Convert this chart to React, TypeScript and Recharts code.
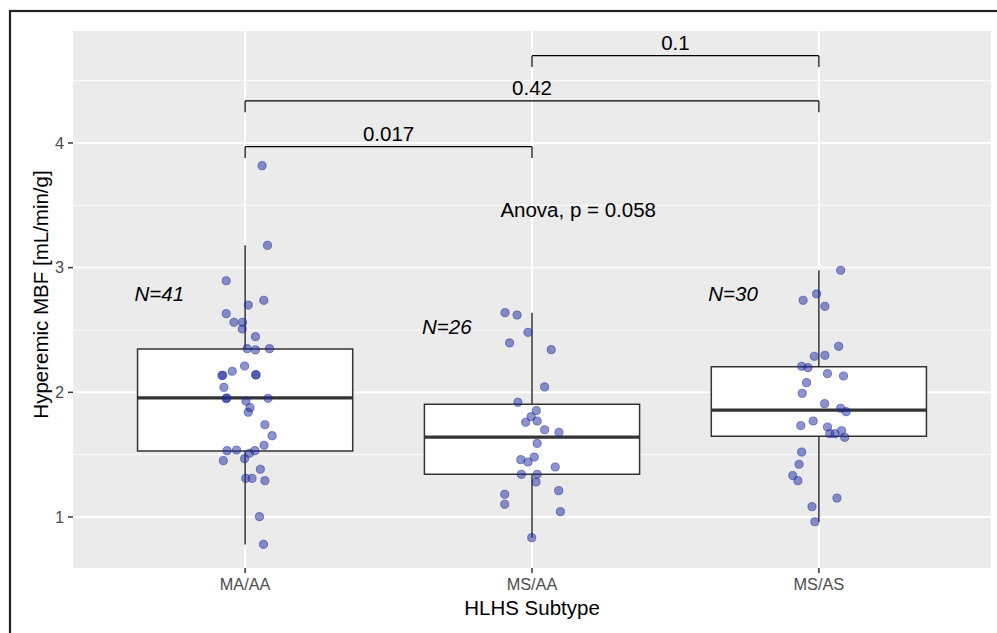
import {
  CartesianGrid,
  ComposedChart,
  ReferenceArea,
  ReferenceDot,
  ReferenceLine,
  Scatter,
  XAxis,
  YAxis,
} from "recharts";

const categories = ["MA/AA", "MS/AA", "MS/AS"];

// box statistics per subtype
const boxMin = [0.78, 0.834, 0.962];
const boxQ1 = [1.529, 1.343, 1.647];
const boxMedian = [1.955, 1.64, 1.858];
const boxQ3 = [2.348, 1.905, 2.206];
const boxMax = [3.18, 2.639, 2.979];

// individual patients (value + horizontal jitter as drawn)
const maaaValues = [
  3.818, 3.179, 2.895, 2.738, 2.7, 2.631, 2.562, 2.562, 2.508, 2.446, 2.35, 2.34, 2.35, 2.211,
  2.169, 2.134, 2.138, 2.139, 2.142, 2.04, 1.949, 1.955, 1.93, 1.952, 1.877, 1.84, 1.74, 1.652,
  1.575, 1.532, 1.537, 1.511, 1.532, 1.452, 1.468, 1.383, 1.31, 1.31, 1.291, 1.003, 0.781,
];
const maaaJitter = [
  0.059, 0.078, -0.066, 0.065, 0.011, -0.066, -0.039, -0.009, -0.01, 0.036, 0.007, 0.036, 0.085,
  -0.002, -0.045, -0.081, -0.078, 0.038, 0.037, -0.074, -0.066, -0.064, 0.003, 0.08, 0.017, 0.011,
  0.069, 0.094, 0.066, -0.063, -0.03, 0.015, 0.034, -0.076, -0.002, 0.053, 0.002, 0.024, 0.069,
  0.05, 0.064,
];
const msaaValues = [
  2.639, 2.62, 2.481, 2.396, 2.342, 2.043, 1.92, 1.853, 1.805, 1.76, 1.77, 1.7, 1.679, 1.591, 1.46,
  1.441, 1.481, 1.401, 1.342, 1.342, 1.281, 1.182, 1.211, 1.102, 1.043, 0.834,
];
const msaaJitter = [
  -0.094, -0.052, -0.014, -0.078, 0.067, 0.044, -0.049, 0.015, -0.003, -0.022, 0.018, 0.044, 0.094,
  0.018, -0.039, -0.014, 0.008, 0.081, -0.037, 0.018, 0.014, -0.095, 0.093, -0.095, 0.099, -0.001,
];
const msasValues = [
  2.979, 2.789, 2.738, 2.69, 2.369, 2.297, 2.289, 2.209, 2.198, 2.15, 2.131, 2.077, 1.992, 1.909,
  1.872, 1.845, 1.77, 1.733, 1.722, 1.692, 1.668, 1.668, 1.639, 1.521, 1.423, 1.332, 1.291, 1.152,
  1.083, 0.962,
];
const msasJitter = [
  0.076, -0.008, -0.055, 0.021, 0.069, 0.021, -0.016, -0.06, -0.038, 0.03, 0.086, -0.043, -0.058,
  0.02, 0.076, 0.095, -0.02, -0.063, 0.03, 0.079, 0.038, 0.056, 0.09, -0.06, -0.069, -0.091,
  -0.073, 0.063, -0.024, -0.014,
];

const groupCounts = ["N=41", "N=26", "N=30"];
const countLabelX = [0.701, 1.703, 2.701];
const countLabelY = [2.794, 2.526, 2.789];

// pairwise comparisons
const bracketFrom = [1, 1, 2];
const bracketTo = [2, 3, 3];
const bracketY = [3.97, 4.337, 4.7];
const bracketLabels = ["0.017", "0.42", "0.1"];

const anovaText = "Anova, p = 0.058";
const anovaX = 2.161;
const anovaY = 3.463;

const yTicks = [1, 2, 3, 4];
const yMinor = [1.5, 2.5, 3.5, 4.5];

const FONT = "'Liberation Sans', Arial, Helvetica, sans-serif";
const BOX_HALF = 0.375;
const BRACKET_DROP = 0.09;

const points = [
  ...maaaValues.map((v, i) => ({ x: 1 + maaaJitter[i], y: v })),
  ...msaaValues.map((v, i) => ({ x: 2 + msaaJitter[i], y: v })),
  ...msasValues.map((v, i) => ({ x: 3 + msasJitter[i], y: v })),
];

const Dot = (props: any) => (
  <circle
    cx={props.cx}
    cy={props.cy}
    r={4.1}
    fill="#1c2a9c"
    fillOpacity={0.5}
    stroke="#1c2a9c"
    strokeOpacity={0.5}
    strokeWidth={1}
  />
);

export default function App() {
  return (
    <div
      style={{
        position: "absolute",
        left: 0,
        top: 0,
        width: 997,
        height: 633,
        background: "#fff",
        overflow: "hidden",
        fontFamily: FONT,
      }}
    >
      <ComposedChart
        width={997}
        height={633}
        margin={{ top: 31, right: 6, bottom: 35, left: 0 }}
      >
        <CartesianGrid
          fill="#ebebeb"
          stroke="#fff"
          strokeWidth={0.9}
          vertical={false}
          horizontalValues={yMinor}
        />
        <CartesianGrid
          stroke="#fff"
          strokeWidth={1.9}
          horizontalValues={yTicks}
          verticalValues={[1, 2, 3]}
        />
        <XAxis
          type="number"
          dataKey="x"
          domain={[0.4, 3.6]}
          allowDataOverflow
          ticks={[1, 2, 3]}
          interval={0}
          tickFormatter={(v: number) => categories[v - 1]}
          height={30}
          tickSize={5}
          tickMargin={5}
          axisLine={false}
          tickLine={{ stroke: "#333", strokeWidth: 1.5 }}
          tick={{ fill: "#4d4d4d", fontSize: 16.3, fontFamily: FONT }}
        />
        <YAxis
          type="number"
          dataKey="y"
          domain={[0.591, 4.898]}
          allowDataOverflow
          ticks={yTicks}
          interval={0}
          width={73}
          tickSize={5}
          tickMargin={4}
          axisLine={false}
          tickLine={{ stroke: "#333", strokeWidth: 1.5 }}
          tick={{ fill: "#4d4d4d", fontSize: 16.3, fontFamily: FONT }}
        />

        {categories.map((c, i) => (
          <ReferenceLine
            key={`wu-${c}`}
            segment={[
              { x: i + 1, y: boxQ3[i] },
              { x: i + 1, y: boxMax[i] },
            ]}
            stroke="#333"
            strokeWidth={1.5}
          />
        ))}
        {categories.map((c, i) => (
          <ReferenceLine
            key={`wl-${c}`}
            segment={[
              { x: i + 1, y: boxQ1[i] },
              { x: i + 1, y: boxMin[i] },
            ]}
            stroke="#333"
            strokeWidth={1.5}
          />
        ))}
        {categories.map((c, i) => (
          <ReferenceArea
            key={`box-${c}`}
            x1={i + 1 - BOX_HALF}
            x2={i + 1 + BOX_HALF}
            y1={boxQ1[i]}
            y2={boxQ3[i]}
            fill="#fff"
            fillOpacity={1}
            stroke="#333"
            strokeWidth={1.5}
          />
        ))}
        {categories.map((c, i) => (
          <ReferenceLine
            key={`med-${c}`}
            segment={[
              { x: i + 1 - BOX_HALF, y: boxMedian[i] },
              { x: i + 1 + BOX_HALF, y: boxMedian[i] },
            ]}
            stroke="#333"
            strokeWidth={3.2}
          />
        ))}

        {bracketLabels.map((lab, i) => (
          <ReferenceLine
            key={`bh-${lab}`}
            segment={[
              { x: bracketFrom[i], y: bracketY[i] },
              { x: bracketTo[i], y: bracketY[i] },
            ]}
            stroke="#000"
            strokeWidth={1.2}
            label={{
              value: lab,
              position: "top",
              offset: 6,
              fill: "#000",
              fontSize: 20.5,
              fontFamily: FONT,
            }}
          />
        ))}
        {bracketLabels.map((lab, i) => (
          <ReferenceLine
            key={`bl-${lab}`}
            segment={[
              { x: bracketFrom[i], y: bracketY[i] },
              { x: bracketFrom[i], y: bracketY[i] - BRACKET_DROP },
            ]}
            stroke="#000"
            strokeWidth={1.2}
          />
        ))}
        {bracketLabels.map((lab, i) => (
          <ReferenceLine
            key={`br-${lab}`}
            segment={[
              { x: bracketTo[i], y: bracketY[i] },
              { x: bracketTo[i], y: bracketY[i] - BRACKET_DROP },
            ]}
            stroke="#000"
            strokeWidth={1.2}
          />
        ))}

        {groupCounts.map((n, i) => (
          <ReferenceDot
            key={n}
            x={countLabelX[i]}
            y={countLabelY[i]}
            r={0}
            fill="none"
            stroke="none"
            label={{
              value: n,
              position: "center",
              fill: "#000",
              fontSize: 20.5,
              fontStyle: "italic",
              fontFamily: FONT,
            }}
          />
        ))}
        <ReferenceDot
          x={anovaX}
          y={anovaY}
          r={0}
          fill="none"
          stroke="none"
          label={{
            value: anovaText,
            position: "center",
            fill: "#000",
            fontSize: 20.5,
            fontFamily: FONT,
          }}
        />

        <Scatter data={points} dataKey="y" shape={Dot} isAnimationActive={false} />
      </ComposedChart>

      <svg
        width={997}
        height={633}
        style={{ position: "absolute", left: 0, top: 0, pointerEvents: "none" }}
      >
        <text x={532} y={615} textAnchor="middle" fontSize={20.5} fontFamily={FONT} fill="#000">
          HLHS Subtype
        </text>
        <text
          x={0}
          y={0}
          transform="translate(47.5 294.5) rotate(-90)"
          textAnchor="middle"
          fontSize={20.5}
          fontFamily={FONT}
          fill="#000"
        >
          Hyperemic MBF [mL/min/g]
        </text>
        <rect x={10} y={11} width={1100} height={800} fill="none" stroke="#222" strokeWidth={2.2} />
      </svg>
    </div>
  );
}
